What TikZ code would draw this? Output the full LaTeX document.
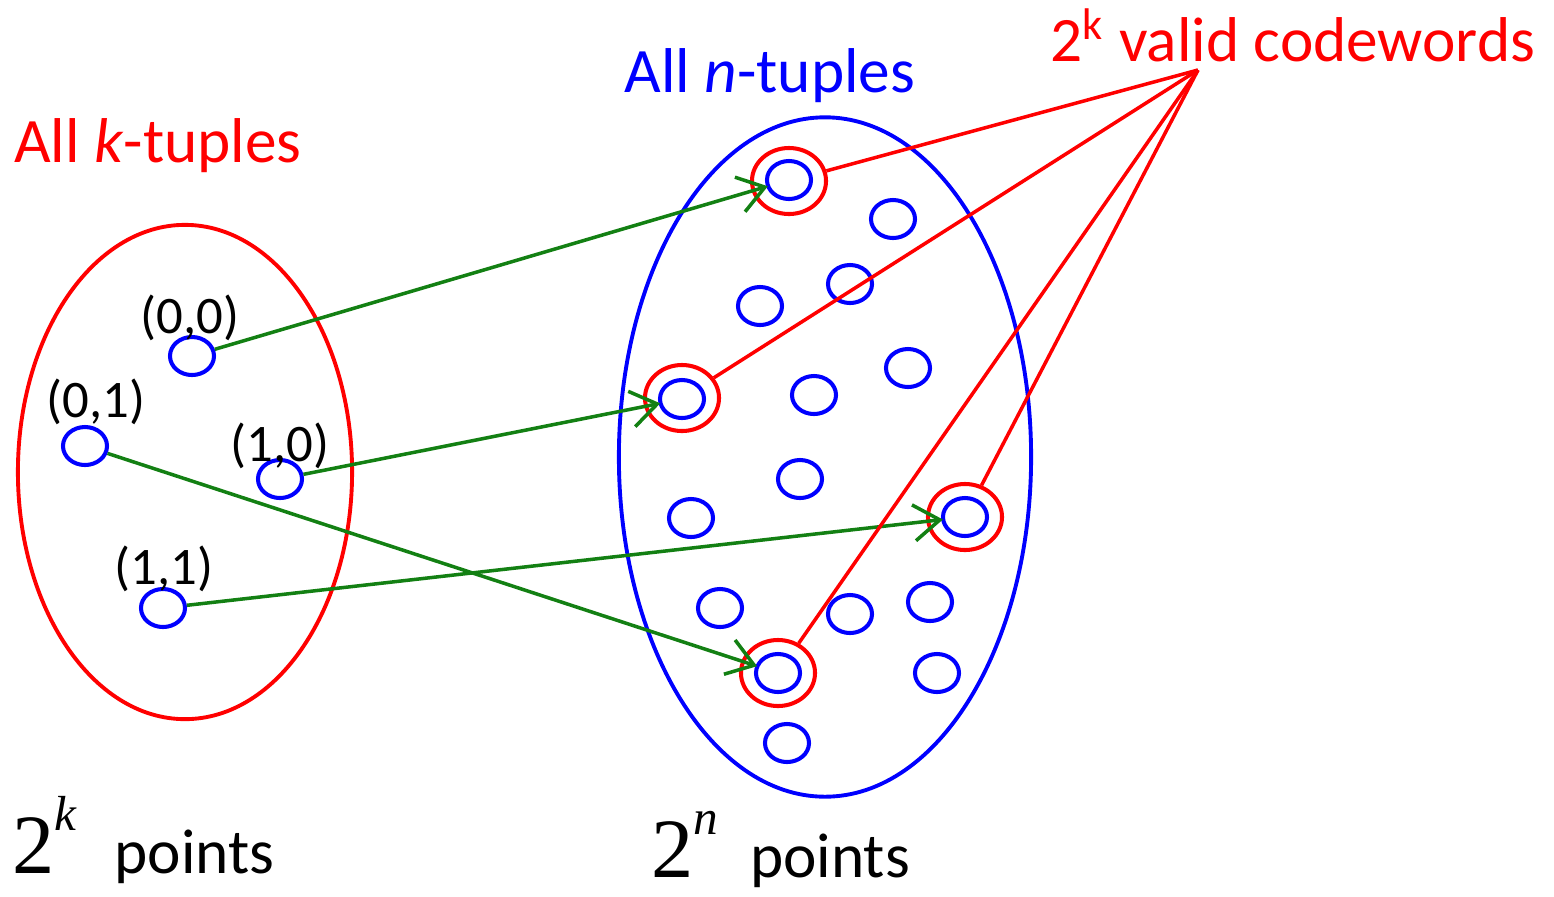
\documentclass[tikz,border=0pt]{standalone}
\usepackage{fontspec}
\setmainfont{Carlito}
\newfontfamily\timesfont{Liberation Serif}
\usepackage{tikz}
\usetikzlibrary{positioning,shapes.geometric,arrows.meta}
\definecolor{tuplered}{HTML}{FF0000}
\definecolor{tupleblue}{HTML}{0000FF}
\definecolor{mapgreen}{HTML}{138013}
\tikzset{
  tuple/.style={draw=tupleblue, ellipse, line width=1.15pt, minimum width=4.4mm, minimum height=3.8mm, inner sep=0pt},
  ring/.style={draw=tuplered, ellipse, line width=1.15pt, minimum width=7.4mm, minimum height=6.6mm, inner sep=0pt},
  setk/.style={draw=tuplered, ellipse, line width=1.1pt, inner sep=0pt},
  setn/.style={draw=tupleblue, ellipse, line width=1.1pt, inner sep=0pt},
  encode/.style={-{Straight Barb[length=2.6mm, width=3.6mm]}, draw=mapgreen, line width=1pt, shorten >=-0.5pt},
  valid/.style={draw=tuplered, line width=1pt},
  label/.style={font=\fontsize{15}{18}\selectfont, inner sep=0pt}
}
\begin{document}
\begin{tikzpicture}[x=0.01cm, y=-0.01cm, font=\fontsize{18}{22}\selectfont]
  \useasboundingbox (0,0) rectangle (1554,896);

  % the two sets
  \node[setk, minimum width=3.34cm, minimum height=4.94cm] (kset) at (185,472) {};
  \node[setn, minimum width=4.12cm, minimum height=6.79cm] (nset) at (825,457) {};
  \node[text=tuplered] (ktitle) at (158,146) {All \textit{k}-tuples};
  \node[text=tupleblue] (ntitle) at (770,76) {All \textit{n}-tuples};
  \node[text=tuplered] (cwtitle) at (1293,35) {2\textsuperscript{k} valid codewords};
  \coordinate (apex) at (1198,70);

  % k-tuples
  \node[tuple] (k00) at (192,356) {};
  \node[tuple] (k01) at (85,446) {};
  \node[tuple] (k10) at (280,479) {};
  \node[tuple] (k11) at (163,608) {};
  \node[label] at (190,318) {(0,0)};
  \node[label] at (96,402) {(0,1)};
  \node[label] at (280,446) {(1,0)};
  \node[label] at (164,569) {(1,1)};

  % n-tuples
  \node[tuple] (cw1) at (789,180) {};
  \node[tuple] (cw2) at (682,399) {};
  \node[tuple] (cw3) at (965,517) {};
  \node[tuple] (cw4) at (778,673) {};
  \node[ring] (ring1) at (789,181) {};
  \node[ring] (ring2) at (682,398) {};
  \node[ring] (ring3) at (965,517) {};
  \node[ring] (ring4) at (778,673) {};
  \node[tuple] (n1) at (893,219) {};
  \node[tuple] (n2) at (850,284) {};
  \node[tuple] (n3) at (760,306) {};
  \node[tuple] (n4) at (908,368) {};
  \node[tuple] (n5) at (814,395) {};
  \node[tuple] (n6) at (800,479) {};
  \node[tuple] (n7) at (691,518) {};
  \node[tuple] (n8) at (720,608) {};
  \node[tuple] (n9) at (850,614) {};
  \node[tuple] (n10) at (930,602) {};
  \node[tuple] (n11) at (937,673) {};
  \node[tuple] (n12) at (787,743) {};

  % encoding map
  \draw[encode] (k00) -- (cw1);
  \draw[encode] (k10) -- (cw2);
  \draw[encode] (k01) -- (cw4);
  \draw[encode] (k11) -- (cw3);

  % codewords
  \draw[valid] (ring1) -- (apex);
  \draw[valid] (ring2) -- (apex);
  \draw[valid] (ring4) -- (apex);
  \draw[valid] (ring3) -- (apex);

  % sizes
  \node[anchor=base west, inner sep=0pt] (ksize) at (12,873) {{\timesfont\fontsize{24}{28}\selectfont 2\raisebox{1.1ex}{\fontsize{14}{14}\selectfont\itshape k}}\hspace{0.6em}points};
  \node[anchor=base west, inner sep=0pt] (nsize) at (651,877) {{\timesfont\fontsize{24}{28}\selectfont 2\raisebox{1.1ex}{\fontsize{14}{14}\selectfont\itshape n}}\hspace{0.5em}points};
\end{tikzpicture}
\end{document}
